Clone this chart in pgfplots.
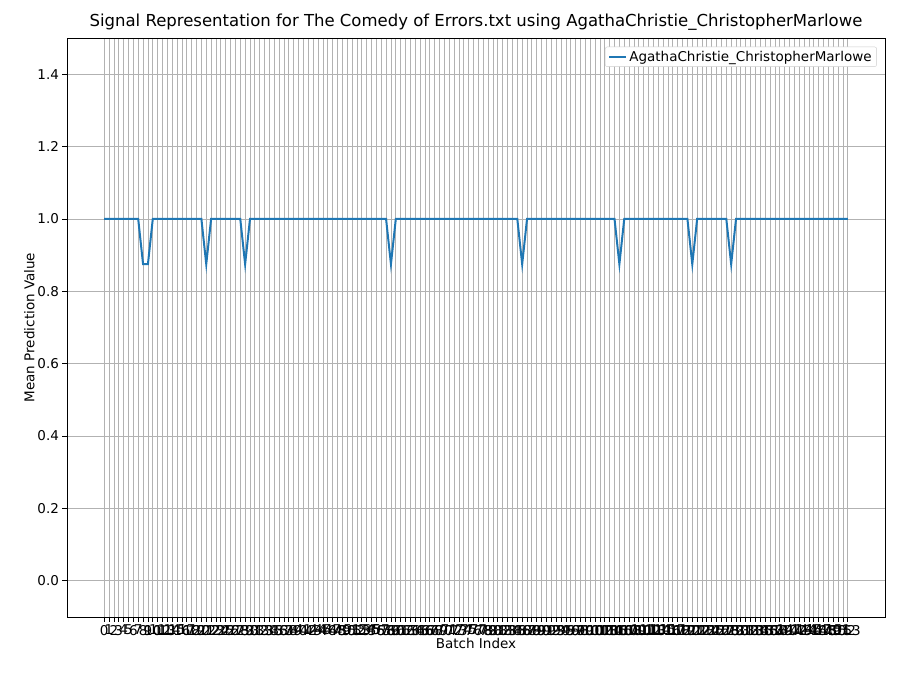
\documentclass[border=0pt]{standalone}
\usepackage{pgfplots}
\pgfplotsset{compat=1.18}
\usepackage{fontspec}
\setmainfont{DejaVu Sans}
\begin{document}
\begin{tikzpicture}
\definecolor{mplblue}{HTML}{1F77B4}
\path[use as bounding box] (-67pt,-58pt) rectangle (833pt,617pt);
\begin{axis}[
  at={(0,0)}, anchor=south west, scale only axis,
  width=818pt, height=579pt,
  xmin=-7.65, xmax=160.65, ymin=-0.1, ymax=1.5,
  xtick={0,...,153},
  ytick={0,0.2,...,1.4},
  xtick pos=bottom, ytick pos=left,
  yticklabel style={/pgf/number format/fixed,/pgf/number format/precision=1,/pgf/number format/fixed zerofill},
  /pgf/number format/assume math mode=true,
  ticklabel style={font=\fontsize{13.5}{14}\selectfont},
  xticklabel style={font=\fontsize{13.5}{14}\selectfont, inner xsep=0pt},
  grid=major, grid style={gray!60, line width=0.8pt},
  tick align=outside, tick style={black, line width=0.8pt}, major tick length=4.5pt,
  title={Signal Representation for The Comedy of Errors.txt using AgathaChristie\_ChristopherMarlowe},
  title style={font=\fontsize{16.5}{18}\selectfont, yshift=-2pt},
  xlabel={Batch Index}, ylabel={Mean Prediction Value},
  label style={font=\fontsize{13.5}{15}\selectfont},
  xlabel style={yshift=4pt},
  ylabel style={yshift=-4pt},
  legend style={at={(0.99,0.985)}, anchor=north east, font=\fontsize{13.5}{15}\selectfont, draw=gray!40, rounded corners=2pt},
  legend cell align=left,
]
\addplot[mplblue, line width=2pt] coordinates {
(0,1)(1,1)(2,1)(3,1)(4,1)(5,1)(6,1)(7,1)(8,0.875)(9,0.875)(10,1)
(11,1)(12,1)(13,1)(14,1)(15,1)(16,1)(17,1)(18,1)(19,1)(20,1)(21,0.875)(22,1)
(23,1)(24,1)(25,1)(26,1)(27,1)(28,1)(29,0.875)(30,1)(31,1)(32,1)(33,1)(34,1)
(35,1)(36,1)(37,1)(38,1)(39,1)(40,1)(41,1)(42,1)(43,1)(44,1)(45,1)(46,1)(47,1)
(48,1)(49,1)(50,1)(51,1)(52,1)(53,1)(54,1)(55,1)(56,1)(57,1)(58,1)(59,0.875)(60,1)
(61,1)(62,1)(63,1)(64,1)(65,1)(66,1)(67,1)(68,1)(69,1)(70,1)(71,1)(72,1)(73,1)
(74,1)(75,1)(76,1)(77,1)(78,1)(79,1)(80,1)(81,1)(82,1)(83,1)(84,1)(85,1)(86,0.875)
(87,1)(88,1)(89,1)(90,1)(91,1)(92,1)(93,1)(94,1)(95,1)(96,1)(97,1)(98,1)(99,1)
(100,1)(101,1)(102,1)(103,1)(104,1)(105,1)(106,0.875)(107,1)(108,1)(109,1)(110,1)
(111,1)(112,1)(113,1)(114,1)(115,1)(116,1)(117,1)(118,1)(119,1)(120,1)(121,0.875)
(122,1)(123,1)(124,1)(125,1)(126,1)(127,1)(128,1)(129,0.875)(130,1)(131,1)(132,1)
(133,1)(134,1)(135,1)(136,1)(137,1)(138,1)(139,1)(140,1)(141,1)(142,1)(143,1)
(144,1)(145,1)(146,1)(147,1)(148,1)(149,1)(150,1)(151,1)(152,1)(153,1)};
\addlegendentry{AgathaChristie\_ChristopherMarlowe}
\end{axis}
\end{tikzpicture}
\end{document}
